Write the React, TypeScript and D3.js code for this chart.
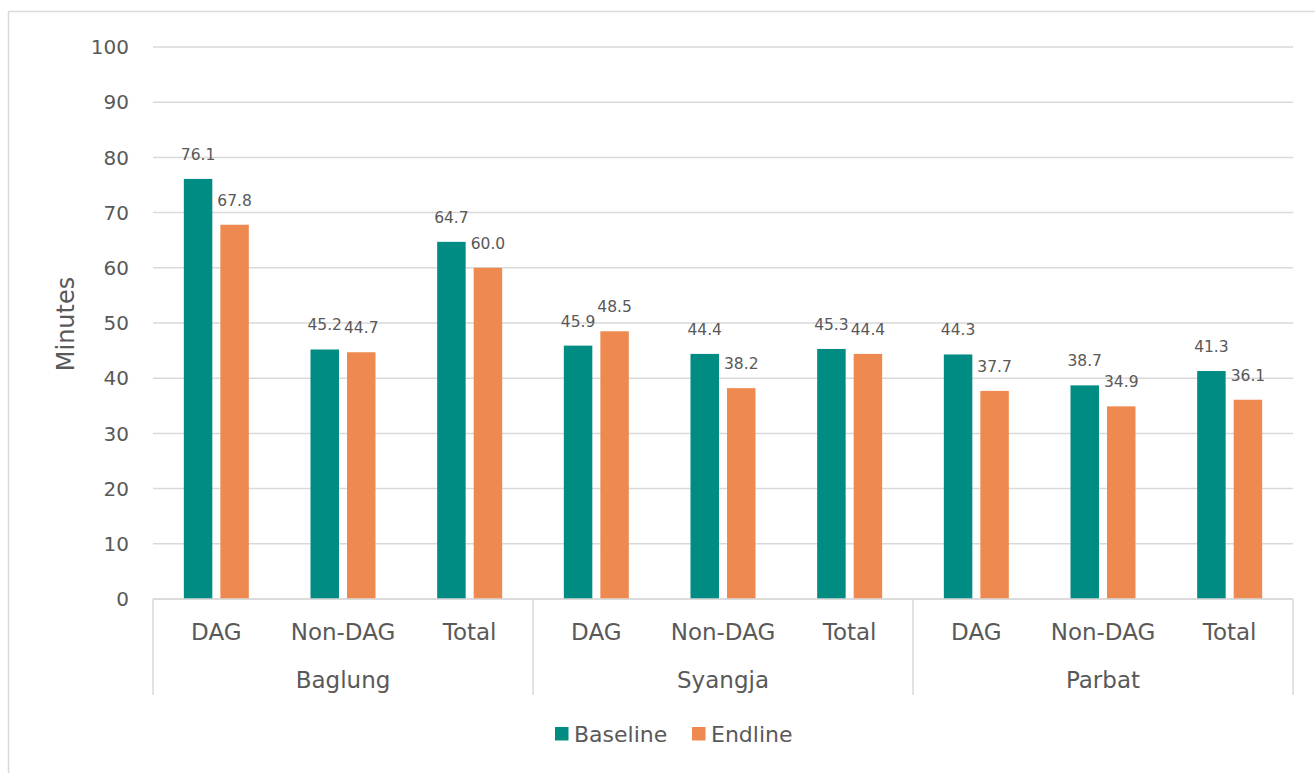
import React from "react";
import * as d3 from "d3";

// Average minutes per district and household group
const districts = ["Baglung", "Syangja", "Parbat"];
const groups = ["DAG", "Non-DAG", "Total"];
const seriesNames = ["Baseline", "Endline"];
const baseline = [76.1, 45.2, 64.7, 45.9, 44.4, 45.3, 44.3, 38.7, 41.3];
const endline = [67.8, 44.7, 60.0, 48.5, 38.2, 44.4, 37.7, 34.9, 36.1];
const yTicks = [0, 10, 20, 30, 40, 50, 60, 70, 80, 90, 100];

const W = 1315;
const H = 773;
const TEXT = "#595959";
const GRID = "#d9d9d9";
const COLORS: Record<string, string> = { Baseline: "#008C82", Endline: "#EE8A4F" };
const FONT = "'DejaVu Sans', sans-serif";

export default function App() {
  const plotLeft = 153;
  const plotRight = 1293;
  const plotTop = 47;
  const plotBottom = 599;

  const cats = districts.flatMap((d) => groups.map((g) => `${d}|${g}`));
  const x = d3.scaleBand<string>().domain(cats).range([plotLeft, plotRight]).padding(0);
  const inner = d3
    .scaleBand<string>()
    .domain(seriesNames)
    .range([-32.5, 32.5])
    .paddingInner(0.22)
    .paddingOuter(0);
  const y = d3.scaleLinear().domain([0, 100]).range([plotBottom, plotTop]);

  const values: Record<string, number[]> = { Baseline: baseline, Endline: endline };
  const districtWidth = x.bandwidth() * groups.length;
  const sepX = d3.range(districts.length + 1).map((i) => plotLeft + i * districtWidth);

  return (
    <svg
      width={W}
      height={H}
      style={{ position: "fixed", left: 0, top: 0, background: "#fff" }}
      fontFamily={FONT}
    >
      <rect x={8.5} y={11.5} width={W + 10} height={H + 10} fill="#fff" stroke={GRID} strokeWidth={1.5} />

      {/* gridlines and tick labels */}
      {yTicks.map((t) => (
        <g key={t}>
          <line x1={plotLeft} x2={plotRight} y1={y(t)} y2={y(t)} stroke={GRID} strokeWidth={1.5} />
          <text x={129} y={y(t)} dy="0.36em" textAnchor="end" fontSize={20} fill={TEXT}>
            {t}
          </text>
        </g>
      ))}

      <text
        transform={`translate(65,${(plotTop + plotBottom) / 2 + 1}) rotate(-90)`}
        textAnchor="middle"
        dy="0.36em"
        fontSize={24}
        fill={TEXT}
      >
        Minutes
      </text>

      {/* bars */}
      {seriesNames.map((s) =>
        cats.map((c, i) => {
          const v = values[s][i];
          const cx = (x(c) as number) + x.bandwidth() / 2 + (inner(s) as number);
          return (
            <rect
              key={`${s}-${c}`}
              x={cx}
              y={y(v)}
              width={inner.bandwidth()}
              height={plotBottom - y(v)}
              fill={COLORS[s]}
            />
          );
        })
      )}

      {/* data labels */}
      {seriesNames.map((s) =>
        cats.map((c, i) => {
          const v = values[s][i];
          const cx = (x(c) as number) + x.bandwidth() / 2 + (inner(s) as number) + inner.bandwidth() / 2;
          return (
            <text
              key={`l-${s}-${c}`}
              x={cx}
              y={y(v) - 19}
              textAnchor="middle"
              fontSize={15.5}
              fill={TEXT}
            >
              {v.toFixed(1)}
            </text>
          );
        })
      )}

      {/* category axis */}
      <line x1={plotLeft} x2={plotRight} y1={plotBottom} y2={plotBottom} stroke={GRID} strokeWidth={1.5} />
      {sepX.map((sx, i) => (
        <line key={i} x1={sx} x2={sx} y1={plotBottom} y2={695} stroke={GRID} strokeWidth={1.5} />
      ))}
      {cats.map((c) => (
        <text
          key={`c-${c}`}
          x={(x(c) as number) + x.bandwidth() / 2}
          y={640}
          textAnchor="middle"
          fontSize={23}
          fill={TEXT}
        >
          {c.split("|")[1]}
        </text>
      ))}
      {districts.map((d, i) => (
        <text
          key={d}
          x={sepX[i] + districtWidth / 2}
          y={688}
          textAnchor="middle"
          fontSize={23}
          fill={TEXT}
        >
          {d}
        </text>
      ))}

      {/* legend */}
      {seriesNames.map((s, i) => {
        const lx = i === 0 ? 555 : 692;
        return (
          <g key={`lg-${s}`}>
            <rect x={lx} y={727} width={13.5} height={13.5} fill={COLORS[s]} />
            <text x={lx + 19} y={742} fontSize={22} fill={TEXT}>
              {s}
            </text>
          </g>
        );
      })}
    </svg>
  );
}
